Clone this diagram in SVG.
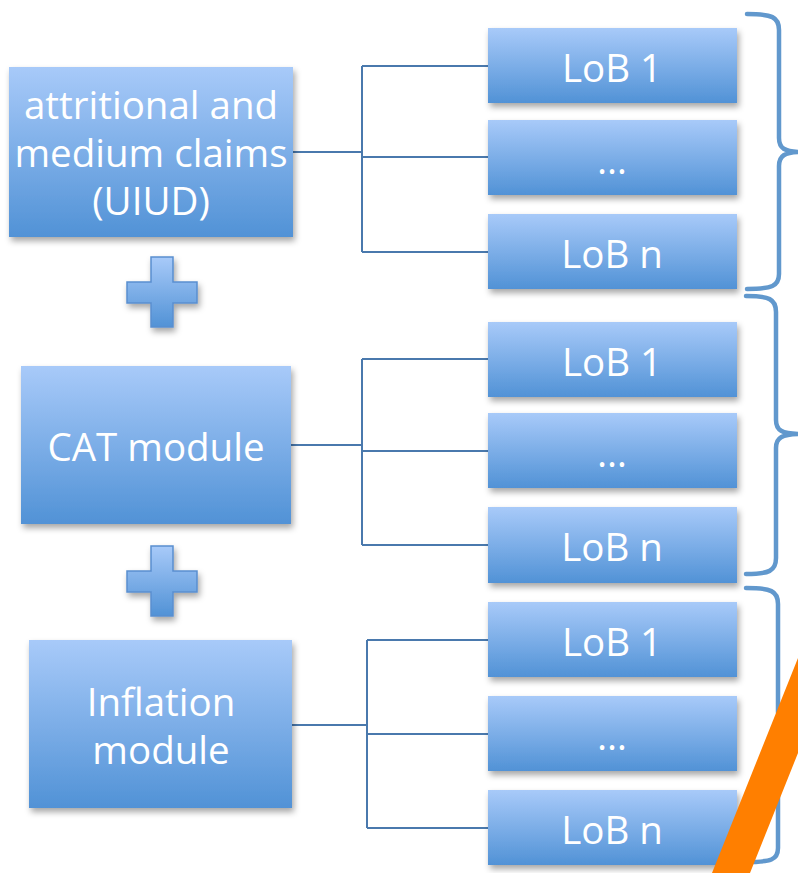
<svg xmlns="http://www.w3.org/2000/svg" width="798" height="873" viewBox="0 0 798 873">
<defs>
<linearGradient id="g" x1="0" y1="0" x2="0" y2="1">
<stop offset="0" stop-color="#a8caf9"/>
<stop offset="1" stop-color="#5192d6"/>
</linearGradient>
<filter id="sh" x="-10%" y="-10%" width="130%" height="140%">
<feDropShadow dx="2" dy="4" stdDeviation="3" flood-color="#000" flood-opacity="0.35"/>
</filter>
<style>
.box{fill:url(#g);filter:url(#sh)}
.t{font-family:"Open Sans","Liberation Sans",sans-serif;font-size:38.5px;fill:#fff;text-anchor:middle}
.c{fill:none;stroke:#4a79ad;stroke-width:2}
.br{fill:none;stroke:#6198cd;stroke-width:4.5;stroke-linecap:round}
.plus{fill:url(#g);stroke:#5a8fcf;stroke-width:1.5;filter:url(#sh)}
</style>
</defs>
<rect width="798" height="873" fill="#fff"/>
<g id="connectors">
<path class="c" d="M293,152 H362 M362,66 V252 M362,66 H488 M362,157 H488 M362,252 H488"/>
<path class="c" d="M291,445 H362 M362,359 V545 M362,359 H488 M362,451 H488 M362,545 H488"/>
<path class="c" d="M292,725 H367 M367,640 V828 M367,640 H488 M367,734 H488 M367,828 H488"/>
</g>
<g id="uiud"><rect class="box" x="9" y="67" width="284" height="170"/>
<text class="t" x="151" y="119">attritional and</text>
<text class="t" x="151" y="167">medium claims</text>
<text class="t" x="151" y="215">(UIUD)</text></g>
<g id="cat"><rect class="box" x="21" y="366" width="270" height="158"/>
<text class="t" x="156" y="461">CAT module</text></g>
<g id="inflation"><rect class="box" x="29" y="640" width="263" height="168"/>
<text class="t" x="161" y="716">Inflation</text>
<text class="t" x="161" y="764">module</text></g>
<g id="plus1"><path class="plus" d="M151,257 H173 V282 H197 V303 H173 V327 H151 V303 H127 V282 H151 Z"/></g>
<g id="plus2"><path class="plus" d="M151,546 H173 V571 H197 V592 H173 V616 H151 V592 H127 V571 H151 Z"/></g>
<g id="a1"><rect class="box" x="488" y="28" width="249" height="75"/><text class="t" x="612" y="82">LoB 1</text></g>
<g id="a2"><rect class="box" x="488" y="120" width="249" height="75"/><text class="t" x="612" y="174">…</text></g>
<g id="a3"><rect class="box" x="488" y="214" width="249" height="75"/><text class="t" x="612" y="268">LoB n</text></g>
<g id="b1"><rect class="box" x="488" y="322" width="249" height="75"/><text class="t" x="612" y="376">LoB 1</text></g>
<g id="b2"><rect class="box" x="488" y="413" width="249" height="75"/><text class="t" x="612" y="467">…</text></g>
<g id="b3"><rect class="box" x="488" y="507" width="249" height="76"/><text class="t" x="612" y="561">LoB n</text></g>
<g id="c1"><rect class="box" x="488" y="602" width="249" height="75"/><text class="t" x="612" y="656">LoB 1</text></g>
<g id="c2"><rect class="box" x="488" y="696" width="249" height="75"/><text class="t" x="612" y="750">…</text></g>
<g id="c3"><rect class="box" x="488" y="790" width="249" height="75"/><text class="t" x="612" y="844">LoB n</text></g>
<g id="brace1"><path class="br" d="M747,14 C772,14 779,17 779,30 V138 C779,148 784,152 802,152 C784,152 779,156 779,166 V274 C779,286 772,289 747,289"/></g>
<g id="brace2"><path class="br" d="M746,296 C769,296 776,299 776,312 V420 C776,430 781,434 802,434 C781,434 776,438 776,448 V558 C776,571 769,574 746,574"/></g>
<g id="brace3"><path class="br" d="M746,588 C771,588 778,591 778,604 V712 C778,721 783,725 802,725 C783,725 778,729 778,738 V848 C778,860 771,862 746,862"/></g>
<g id="slash"><polygon points="712,873 750,873 800,748 800,653" fill="#ff7f00"/></g>
</svg>
